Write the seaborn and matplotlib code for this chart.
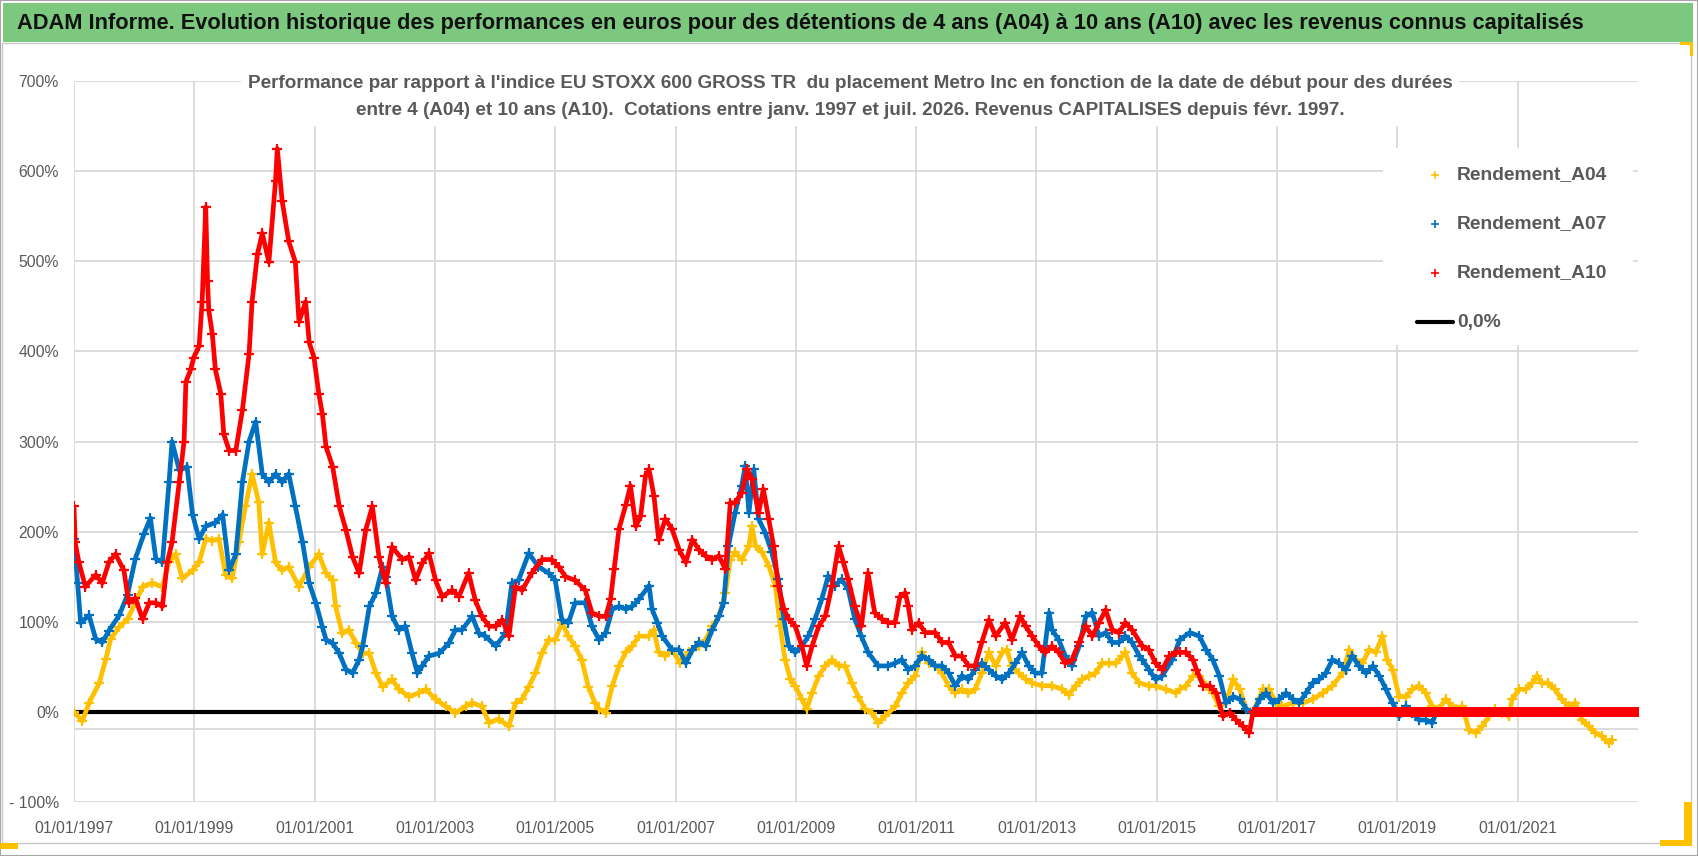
import numpy as np
import pandas as pd
import matplotlib
matplotlib.use("Agg")
import matplotlib.pyplot as plt
from matplotlib import font_manager
from matplotlib.lines import Line2D
from matplotlib.patches import Rectangle
import seaborn as sns

# valeurs : (annee decimale, rendement en %)
A04_POINTS = [
    (1997.00, 0), (1997.14, -10), (1997.25, 10), (1997.42, 32), (1997.53, 59), (1997.61, 81),
    (1997.75, 94), (1997.89, 103), (1998.02, 121), (1998.14, 139), (1998.30, 143), (1998.47, 139),
    (1998.58, 166), (1998.69, 175), (1998.80, 148), (1998.97, 157), (1999.08, 166), (1999.19, 192),
    (1999.30, 190), (1999.41, 192), (1999.52, 152), (1999.63, 148), (1999.74, 188), (1999.85, 228),
    (1999.96, 264), (2000.07, 233), (2000.13, 175), (2000.24, 210), (2000.35, 166), (2000.46, 157),
    (2000.57, 161), (2000.74, 139), (2000.91, 161), (2001.07, 175), (2001.19, 154), (2001.30, 146),
    (2001.35, 117), (2001.46, 87), (2001.57, 91), (2001.69, 76), (2001.80, 65), (2001.91, 65),
    (2002.02, 43), (2002.13, 28), (2002.29, 36), (2002.40, 25), (2002.57, 17), (2002.73, 21),
    (2002.85, 25), (2003.01, 14), (2003.18, 6), (2003.34, -1), (2003.51, 6), (2003.62, 10),
    (2003.78, 6), (2003.90, -12), (2004.06, -8), (2004.23, -16), (2004.34, 10), (2004.45, 14),
    (2004.56, 28), (2004.67, 43), (2004.78, 65), (2004.89, 80), (2005.00, 80), (2005.11, 99),
    (2005.22, 84), (2005.33, 73), (2005.44, 58), (2005.55, 28), (2005.66, 10), (2005.73, 3),
    (2005.84, -1), (2005.95, 29), (2006.06, 51), (2006.17, 66), (2006.28, 73), (2006.39, 84),
    (2006.56, 84), (2006.64, 91), (2006.72, 66), (2006.83, 62), (2006.94, 69), (2007.08, 54),
    (2007.22, 66), (2007.39, 73), (2007.50, 80), (2007.61, 95), (2007.72, 106), (2007.83, 132),
    (2007.91, 169), (2007.99, 177), (2008.10, 169), (2008.22, 184), (2008.27, 206), (2008.33, 184),
    (2008.44, 177), (2008.55, 162), (2008.66, 140), (2008.74, 95), (2008.82, 58), (2008.91, 36),
    (2008.99, 29), (2009.10, 14), (2009.18, 3), (2009.27, 21), (2009.38, 40), (2009.49, 51),
    (2009.60, 58), (2009.71, 51), (2009.82, 51), (2009.93, 32), (2010.04, 17), (2010.15, 3),
    (2010.26, -1), (2010.37, -12), (2010.48, -5), (2010.65, 6), (2010.76, 21), (2010.87, 32),
    (2010.98, 40), (2011.09, 66), (2011.21, 54), (2011.32, 51), (2011.43, 43), (2011.54, 29),
    (2011.65, 21), (2011.76, 25), (2011.87, 21), (2011.98, 25), (2012.09, 43), (2012.21, 66),
    (2012.32, 51), (2012.43, 66), (2012.51, 69), (2012.59, 51), (2012.71, 43), (2012.82, 36),
    (2012.93, 32), (2013.09, 29), (2013.26, 29), (2013.43, 25), (2013.54, 19), (2013.65, 29),
    (2013.76, 36), (2013.87, 40), (2013.98, 43), (2014.09, 54), (2014.21, 54), (2014.32, 54),
    (2014.43, 62), (2014.48, 66), (2014.59, 43), (2014.71, 32), (2014.87, 29), (2014.98, 29),
    (2015.15, 25), (2015.32, 21), (2015.38, 25), (2015.49, 29), (2015.60, 40), (2015.71, 40),
    (2015.82, 29), (2015.93, 21), (2016.04, 6), (2016.15, 10), (2016.27, 36), (2016.38, 25),
    (2016.49, 3), (2016.60, -1), (2016.76, 25), (2016.87, 25), (2016.98, 10), (2017.09, 6),
    (2017.26, 10), (2017.43, 10), (2017.59, 14), (2017.76, 21), (2017.92, 29), (2018.09, 43),
    (2018.20, 69), (2018.31, 58), (2018.42, 54), (2018.53, 69), (2018.64, 66), (2018.75, 84),
    (2018.83, 58), (2018.92, 47), (2019.03, 17), (2019.14, 17), (2019.25, 25), (2019.36, 29),
    (2019.47, 21), (2019.58, 6), (2019.69, 3), (2019.80, 14), (2019.86, 10), (2019.97, 3),
    (2020.08, 6), (2020.19, -20), (2020.30, -23), (2020.41, -16), (2020.52, -5), (2020.63, 3),
    (2020.74, -1), (2020.85, -5), (2020.91, 14), (2021.02, 25), (2021.13, 25), (2021.24, 32),
    (2021.32, 40), (2021.40, 32), (2021.51, 32), (2021.62, 25), (2021.73, 14), (2021.85, 6),
    (2021.96, 10), (2022.07, -9), (2022.18, -16), (2022.29, -23), (2022.40, -27), (2022.51, -34),
    (2022.56, -31),
]

A07_POINTS = [
    (1997.00, 192), (1997.06, 143), (1997.11, 99), (1997.25, 107), (1997.36, 81), (1997.47, 77),
    (1997.58, 90), (1997.75, 107), (1997.89, 130), (1998.02, 170), (1998.16, 197), (1998.27, 215),
    (1998.36, 170), (1998.47, 166), (1998.58, 255), (1998.63, 300), (1998.75, 268), (1998.88, 272),
    (1998.97, 219), (1999.08, 192), (1999.19, 206), (1999.35, 210), (1999.47, 219), (1999.58, 157),
    (1999.69, 175), (1999.80, 255), (1999.91, 300), (2000.02, 322), (2000.13, 264), (2000.24, 255),
    (2000.35, 264), (2000.46, 255), (2000.57, 264), (2000.68, 228), (2000.80, 188), (2000.91, 143),
    (2001.02, 121), (2001.13, 94), (2001.19, 80), (2001.30, 76), (2001.41, 65), (2001.52, 47),
    (2001.63, 43), (2001.74, 58), (2001.80, 73), (2001.91, 117), (2002.02, 132), (2002.13, 161),
    (2002.18, 150), (2002.29, 106), (2002.40, 91), (2002.51, 95), (2002.62, 65), (2002.71, 43),
    (2002.79, 51), (2002.90, 62), (2003.07, 65), (2003.23, 76), (2003.34, 91), (2003.45, 91),
    (2003.62, 106), (2003.73, 87), (2003.84, 84), (2004.01, 73), (2004.17, 87), (2004.28, 143),
    (2004.39, 146), (2004.56, 176), (2004.72, 161), (2004.89, 154), (2005.00, 146), (2005.11, 102),
    (2005.22, 99), (2005.33, 121), (2005.50, 121), (2005.61, 95), (2005.73, 80), (2005.84, 88),
    (2005.95, 114), (2006.06, 117), (2006.17, 114), (2006.28, 117), (2006.39, 125), (2006.56, 140),
    (2006.61, 114), (2006.70, 99), (2006.78, 84), (2006.94, 69), (2007.06, 69), (2007.17, 54),
    (2007.28, 69), (2007.39, 77), (2007.50, 73), (2007.61, 91), (2007.72, 106), (2007.80, 121),
    (2007.88, 184), (2007.99, 221), (2008.10, 251), (2008.16, 273), (2008.22, 221), (2008.30, 269),
    (2008.38, 214), (2008.49, 199), (2008.60, 177), (2008.71, 147), (2008.80, 103), (2008.88, 73),
    (2008.99, 66), (2009.10, 73), (2009.21, 84), (2009.32, 103), (2009.43, 125), (2009.54, 151),
    (2009.65, 140), (2009.76, 147), (2009.87, 136), (2009.98, 103), (2010.09, 84), (2010.20, 66),
    (2010.37, 51), (2010.54, 51), (2010.65, 54), (2010.76, 58), (2010.87, 47), (2010.98, 51),
    (2011.09, 62), (2011.21, 58), (2011.32, 51), (2011.43, 51), (2011.54, 43), (2011.65, 29),
    (2011.76, 40), (2011.87, 36), (2011.98, 47), (2012.09, 54), (2012.21, 47), (2012.32, 40),
    (2012.43, 36), (2012.54, 43), (2012.65, 54), (2012.76, 66), (2012.87, 51), (2012.98, 43),
    (2013.09, 43), (2013.21, 110), (2013.26, 91), (2013.37, 80), (2013.48, 62), (2013.59, 51),
    (2013.71, 73), (2013.82, 106), (2013.93, 110), (2014.04, 84), (2014.15, 88), (2014.26, 77),
    (2014.37, 77), (2014.48, 84), (2014.59, 77), (2014.71, 62), (2014.76, 58), (2014.87, 47),
    (2014.98, 36), (2015.09, 40), (2015.26, 58), (2015.38, 80), (2015.55, 88), (2015.71, 84),
    (2015.82, 69), (2015.93, 58), (2016.04, 40), (2016.15, 10), (2016.27, 17), (2016.38, 14),
    (2016.49, 3), (2016.60, -1), (2016.71, 14), (2016.82, 21), (2016.93, 10), (2017.04, 14),
    (2017.15, 21), (2017.26, 14), (2017.37, 10), (2017.48, 21), (2017.59, 32), (2017.70, 36),
    (2017.81, 43), (2017.92, 58), (2018.03, 54), (2018.14, 47), (2018.25, 62), (2018.36, 51),
    (2018.48, 43), (2018.59, 51), (2018.70, 40), (2018.81, 25), (2018.92, 10), (2019.03, -5),
    (2019.14, 6), (2019.25, -1), (2019.36, -9), (2019.47, -9), (2019.58, -12),
]

A10_POINTS = [
    (1997.00, 228), (1997.02, 188), (1997.08, 166), (1997.19, 139), (1997.36, 152), (1997.47, 143),
    (1997.58, 166), (1997.69, 175), (1997.83, 157), (1997.91, 121), (1998.02, 126), (1998.14, 103),
    (1998.25, 121), (1998.36, 121), (1998.47, 117), (1998.55, 166), (1998.63, 188), (1998.75, 255),
    (1998.83, 300), (1998.86, 366), (1998.94, 380), (1998.99, 393), (1999.08, 406), (1999.13, 455),
    (1999.19, 560), (1999.22, 478), (1999.24, 446), (1999.30, 419), (1999.35, 380), (1999.44, 353),
    (1999.49, 308), (1999.58, 290), (1999.69, 290), (1999.80, 335), (1999.91, 397), (1999.96, 455),
    (2000.05, 508), (2000.13, 531), (2000.24, 499), (2000.35, 589), (2000.38, 625), (2000.46, 567),
    (2000.57, 522), (2000.68, 499), (2000.74, 433), (2000.85, 455), (2000.91, 410), (2000.99, 393),
    (2001.07, 353), (2001.13, 330), (2001.19, 294), (2001.30, 272), (2001.41, 228), (2001.52, 202),
    (2001.63, 172), (2001.74, 154), (2001.85, 202), (2001.96, 228), (2002.07, 172), (2002.18, 143),
    (2002.29, 183), (2002.46, 169), (2002.57, 172), (2002.68, 146), (2002.79, 165), (2002.90, 176),
    (2003.01, 146), (2003.12, 128), (2003.29, 135), (2003.40, 128), (2003.56, 154), (2003.67, 124),
    (2003.78, 106), (2003.90, 95), (2004.01, 95), (2004.12, 102), (2004.23, 84), (2004.34, 139),
    (2004.45, 135), (2004.61, 154), (2004.78, 169), (2004.94, 169), (2005.06, 161), (2005.17, 150),
    (2005.33, 146), (2005.50, 135), (2005.61, 110), (2005.73, 106), (2005.84, 106), (2005.92, 125),
    (2005.98, 158), (2006.06, 203), (2006.17, 229), (2006.25, 251), (2006.34, 206), (2006.42, 217),
    (2006.50, 262), (2006.56, 269), (2006.64, 240), (2006.72, 191), (2006.83, 214), (2006.94, 203),
    (2007.06, 180), (2007.17, 166), (2007.28, 191), (2007.39, 180), (2007.50, 173), (2007.61, 169),
    (2007.72, 173), (2007.83, 158), (2007.91, 232), (2007.99, 232), (2008.10, 243), (2008.19, 269),
    (2008.27, 258), (2008.38, 221), (2008.46, 247), (2008.55, 214), (2008.63, 184), (2008.71, 140),
    (2008.80, 114), (2008.88, 103), (2008.99, 95), (2009.10, 73), (2009.18, 51), (2009.27, 73),
    (2009.38, 95), (2009.49, 106), (2009.60, 140), (2009.71, 184), (2009.79, 166), (2009.87, 147),
    (2009.98, 117), (2010.09, 95), (2010.20, 154), (2010.31, 110), (2010.43, 103), (2010.54, 99),
    (2010.65, 99), (2010.73, 128), (2010.82, 132), (2010.87, 117), (2010.93, 91), (2011.04, 99),
    (2011.15, 88), (2011.32, 88), (2011.43, 77), (2011.54, 77), (2011.65, 62), (2011.76, 62),
    (2011.87, 51), (2011.98, 51), (2012.09, 77), (2012.21, 102), (2012.32, 84), (2012.48, 99),
    (2012.59, 80), (2012.73, 106), (2012.82, 95), (2012.93, 84), (2013.04, 73), (2013.15, 66),
    (2013.26, 73), (2013.37, 66), (2013.48, 54), (2013.59, 58), (2013.71, 77), (2013.82, 95),
    (2013.93, 84), (2014.04, 99), (2014.15, 113), (2014.26, 91), (2014.37, 88), (2014.48, 99),
    (2014.59, 91), (2014.76, 73), (2014.87, 69), (2014.98, 54), (2015.09, 47), (2015.21, 62),
    (2015.32, 66), (2015.38, 66), (2015.49, 66), (2015.60, 58), (2015.66, 47), (2015.77, 29),
    (2015.88, 29), (2015.99, 21), (2016.10, -5), (2016.21, -1), (2016.32, -9), (2016.43, -16),
    (2016.54, -23),
]

# apres ces dates le rendement affiche vaut 0 jusqu'a la fin de la serie
A07_ZERO_FROM = 2019.65
A10_ZERO_FROM = 2016.60
SERIES_END = 2023.03
ZERO_STEP = 0.02

ZERO_LINE_YEARS = [1997.0, 2023.03]
ZERO_LINE_VALUES = [0, 0]

X_TICKS = list(range(1997, 2022, 2))
Y_TICKS = list(range(-100, 701, 100))

TITLE = ("ADAM Informe. Evolution historique des performances en euros pour des détentions "
         "de 4 ans (A04) à 10 ans (A10) avec les revenus connus capitalisés")
SUBTITLE = ("Performance par rapport à l'indice EU STOXX 600 GROSS TR  du placement Metro Inc "
            "en fonction de la date de début pour des durées\n"
            "entre 4 (A04) et 10 ans (A10).  Cotations entre janv. 1997 et juil. 2026. "
            "Revenus CAPITALISES depuis févr. 1997.")
LEGEND_LABELS = ["Rendement_A04", "Rendement_A07", "Rendement_A10", "0,0%"]

JAUNE, BLEU, ROUGE = "#FFC000", "#0070C0", "#FF0000"
GRIS_TEXTE = "#595959"
GRIS_GRILLE = "#D9D9D9"


def serie(points, zero_from=None):
    df = pd.DataFrame(points, columns=["annee", "rendement"])
    if zero_from is not None:
        z = np.arange(zero_from, SERIES_END, ZERO_STEP)
        df = pd.concat([df, pd.DataFrame({"annee": z, "rendement": 0.0})], ignore_index=True)
    return df


df04 = serie(A04_POINTS)
df07 = serie(A07_POINTS, A07_ZERO_FROM)
df10 = serie(A10_POINTS, A10_ZERO_FROM)

sns.set_theme(style="white")
installed = {f.name for f in font_manager.fontManager.ttflist}
FONT = "Liberation Sans Narrow" if "Liberation Sans Narrow" in installed else "Liberation Sans"
plt.rcParams["font.family"] = [FONT, "DejaVu Sans"]

W, H = 1698, 856
fig = plt.figure(figsize=(W / 100, H / 100), dpi=100)
renderer = fig.canvas.get_renderer()


def fx(px):
    return px / W


def fy(py):
    return 1 - py / H


def fit_width(t, target_px):
    # ajuste la taille de police pour obtenir la largeur mesuree sur l'image
    w = t.get_window_extent(renderer).width
    t.set_fontsize(t.get_fontsize() * target_px / w)


# cadre, bandeau vert
fig.patches.append(Rectangle((0, 0), 1, 1, transform=fig.transFigure, fill=False,
                             edgecolor="#A6A6A6", lw=1.5))
fig.patches.append(Rectangle((fx(3), fy(42)), fx(1690), 39 / H, transform=fig.transFigure,
                             facecolor="#7DC87F", edgecolor="none"))
fig.patches.append(Rectangle((fx(2), fy(843)), fx(1689), 800 / H, transform=fig.transFigure,
                             fill=False, edgecolor="#C8C8C8", lw=1))
for (x0, y0, w, h) in [(0, 843, 18, 6), (1684, 802, 8, 44), (1660, 840, 32, 6),
                       (1680, 42, 13, 3), (1690, 42, 3, 14)]:
    fig.patches.append(Rectangle((fx(x0), fy(y0 + h)), w / W, h / H, transform=fig.transFigure,
                                 facecolor=JAUNE, edgecolor="none"))

title = fig.text(fx(17), fy(23), TITLE, fontsize=16, fontweight="bold", color="#111111",
                 ha="left", va="center")
fit_width(title, 1566)

ax = fig.add_axes([fx(74), fy(802), (1638 - 74) / W, (802 - 81) / H])

ax.plot(ZERO_LINE_YEARS, ZERO_LINE_VALUES, color="black", lw=3, zorder=2.5,
        solid_capstyle="butt")
for df, col in [(df04, JAUNE), (df07, BLEU), (df10, ROUGE)]:
    sns.lineplot(data=df, x="annee", y="rendement", color=col, lw=3.4, estimator=None,
                 sort=False, legend=False, ax=ax, zorder=3)
    sns.scatterplot(data=df, x="annee", y="rendement", marker="+", color=col, s=55,
                    linewidth=1.6, legend=False, ax=ax, zorder=3)

ax.axhline(-19, color=GRIS_GRILLE, lw=1.3, zorder=0.6)
ax.set_xlim(1997, 2023)
ax.set_ylim(-100, 700)
ax.set_xticks(X_TICKS)
ax.set_xticklabels([f"01/01/{y}" for y in X_TICKS])
ax.set_yticks(Y_TICKS)
ax.set_yticklabels([f"{v}%" if v >= 0 else f"- {-v}%" for v in Y_TICKS])
ax.grid(True, color=GRIS_GRILLE, lw=1.3)
ax.set_axisbelow(True)
for s in ax.spines.values():
    s.set_visible(False)
ax.set_xlabel("")
ax.set_ylabel("")

probe = fig.text(0, 0, "01/01/1997", fontsize=12)
tick_size = 12 * 79 / probe.get_window_extent(renderer).width
probe.remove()
ax.tick_params(length=0, labelsize=tick_size, labelcolor=GRIS_TEXTE)
ax.tick_params(axis="y", pad=11)
ax.tick_params(axis="x", pad=14)

sub = ax.text(fx(850), fy(97), SUBTITLE, transform=fig.transFigure, ha="center", va="center",
              fontsize=13.5, fontweight="bold", color=GRIS_TEXTE, linespacing=1.75, zorder=6,
              bbox=dict(facecolor="white", edgecolor="none", pad=5))
fit_width(sub, 1198)

# legende dessinee a la main aux positions de l'image
ax.add_patch(Rectangle((fx(1383), fy(345)), 250 / W, 197 / H, transform=fig.transFigure,
                       facecolor="white", edgecolor="none", zorder=4, clip_on=False))
leg_colors = [JAUNE, BLEU, ROUGE]
for i, label in enumerate(LEGEND_LABELS):
    y = fy(175 + 49 * i)
    if i < 3:
        ax.add_line(Line2D([fx(1435)], [y], transform=fig.transFigure, ls="none", marker="+",
                           color=leg_colors[i], markersize=6, mew=1.2, zorder=5, clip_on=False))
    else:
        ax.add_line(Line2D([fx(1417), fx(1453)], [y, y], transform=fig.transFigure,
                           color="black", lw=3, zorder=5, clip_on=False))
    t = ax.text(fx(1457), y, label, transform=fig.transFigure, ha="left", va="center",
                fontsize=14, fontweight="bold", color=GRIS_TEXTE, zorder=5)
    if i == 0:
        fit_width(t, 151)
        leg_size = t.get_fontsize()
    else:
        t.set_fontsize(leg_size)

fig.savefig("out.png", dpi=100)
